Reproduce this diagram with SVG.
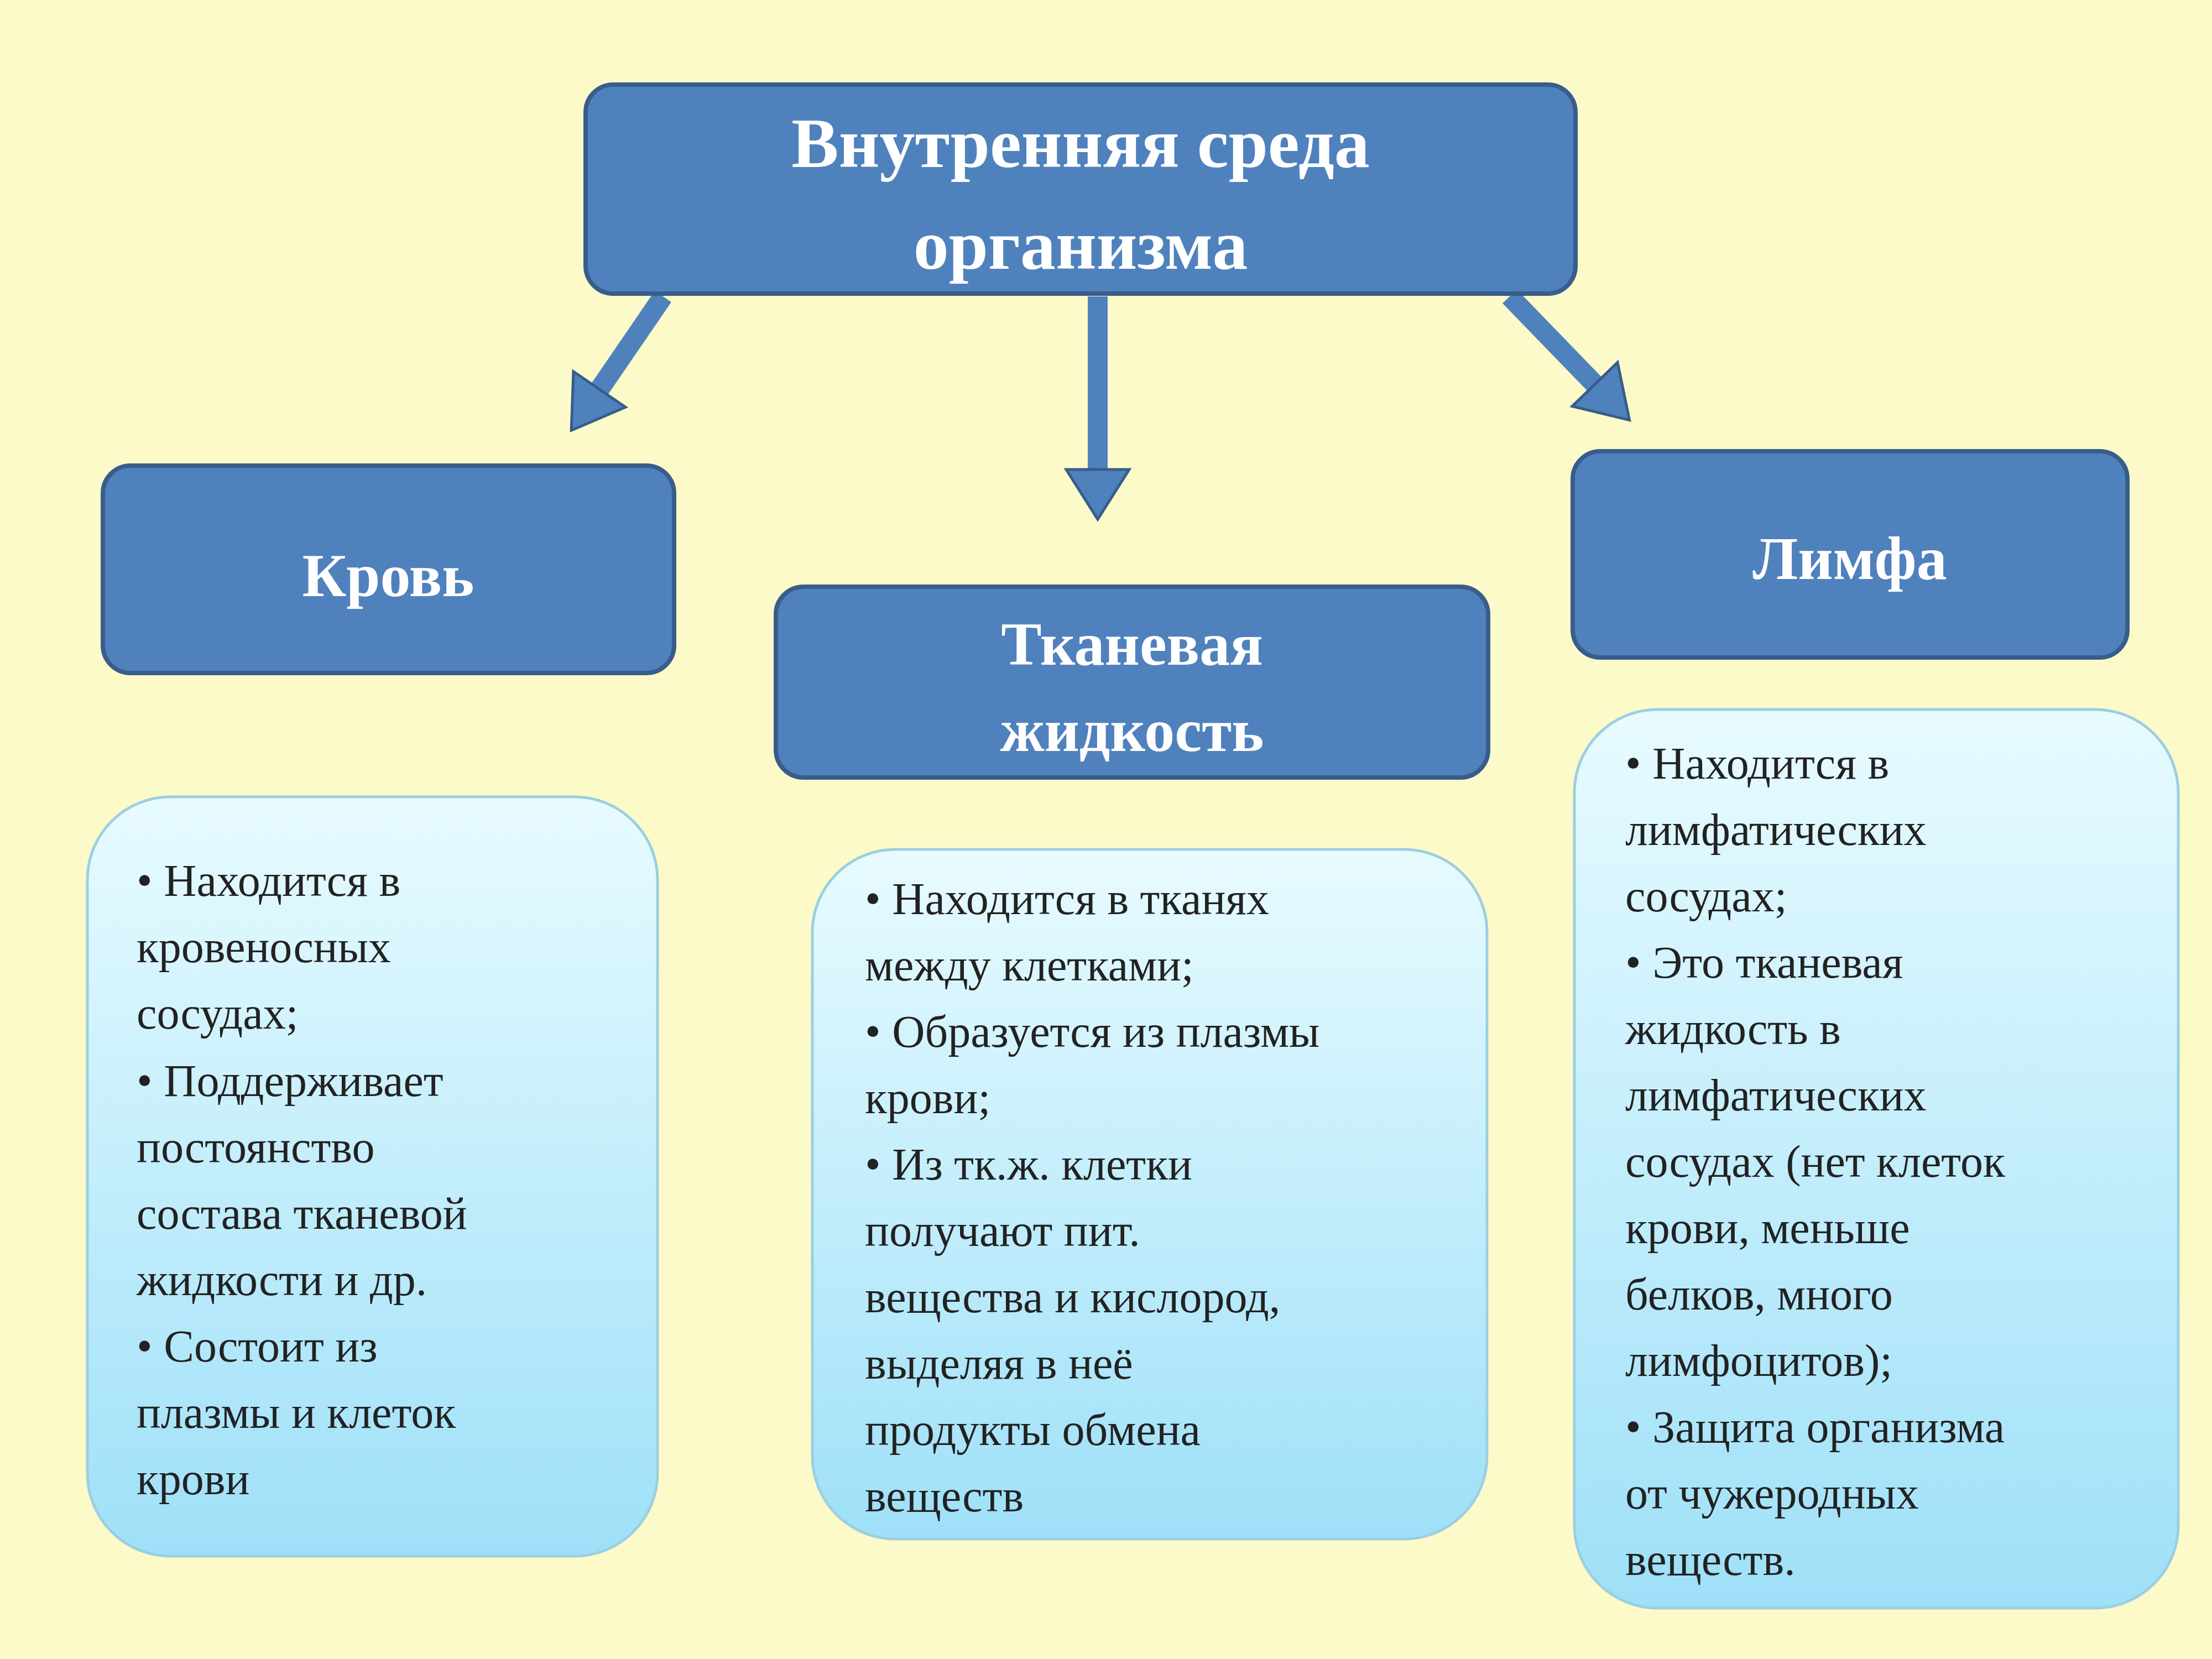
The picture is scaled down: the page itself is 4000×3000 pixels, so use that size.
<svg xmlns="http://www.w3.org/2000/svg" width="4000" height="3000" viewBox="0 0 4000 3000">
<defs>
<linearGradient id="g" x1="0" y1="0" x2="0" y2="1"><stop offset="0" stop-color="#E8FBFF"/><stop offset="1" stop-color="#9EE0F8"/></linearGradient>
<marker id="ah" markerUnits="userSpaceOnUse" markerWidth="100" markerHeight="130" viewBox="-5 -65 100 130" refX="0" refY="0" orient="auto"><path d="M0,-57 L90,0 L0,57 z" fill="#4F81BD" stroke="#385D8A" stroke-width="5"/></marker>
</defs>
<style>
.h{fill:#4F81BD;stroke:#385D8A;stroke-width:8}
.c{fill:url(#g);stroke:#9CCFE0;stroke-width:5}
.ht{font-family:"Liberation Serif",serif;font-weight:bold;fill:#fff;text-anchor:middle}
.b{font-family:"Liberation Serif",serif;font-size:82px;fill:#222}
.a{stroke:#4F81BD;stroke-width:36;fill:none}
</style>
<rect width="4000" height="3000" fill="#FCFAC9"/>
<g id="connectors">
<line class="a" x1="1199" y1="536" x2="1084" y2="704" marker-end="url(#ah)"/>
<line class="a" x1="1985" y1="536" x2="1985" y2="849" marker-end="url(#ah)"/>
<line class="a" x1="2730" y1="536" x2="2884" y2="695" marker-end="url(#ah)"/>
</g>
<g id="root"><rect class="h" x="1059" y="153" width="1790" height="378" rx="50"/>
<text class="ht" font-size="128" x="1954" y="302">Внутренняя среда</text>
<text class="ht" font-size="128" x="1954" y="486">организма</text></g>
<g id="krov"><rect class="h" x="186" y="842" width="1033" height="375" rx="50"/>
<text class="ht" font-size="110" x="702" y="1078">Кровь</text></g>
<g id="tkan"><rect class="h" x="1403" y="1061" width="1288" height="345" rx="50"/>
<text class="ht" font-size="110" x="2047" y="1202">Тканевая</text>
<text class="ht" font-size="110" x="2047" y="1358">жидкость</text></g>
<g id="limfa"><rect class="h" x="2844" y="816" width="1003" height="373" rx="50"/>
<text class="ht" font-size="110" x="3345" y="1047">Лимфа</text></g>
<g id="krov-info"><rect class="c" x="158" y="1441" width="1031" height="1373" rx="150"/>
<text class="b" x="247"><tspan x="247" y="1620">• Находится в</tspan><tspan x="247" y="1740">кровеносных</tspan><tspan x="247" y="1860">сосудах;</tspan><tspan x="247" y="1982">• Поддерживает</tspan><tspan x="247" y="2102">постоянство</tspan><tspan x="247" y="2222">состава тканевой</tspan><tspan x="247" y="2342">жидкости и др.</tspan><tspan x="247" y="2462">• Состоит из</tspan><tspan x="247" y="2582">плазмы и клеток</tspan><tspan x="247" y="2702">крови</tspan></text></g>
<g id="tkan-info"><rect class="c" x="1469" y="1536" width="1220" height="1247" rx="150"/>
<text class="b"><tspan x="1564" y="1653">• Находится в тканях</tspan><tspan x="1564" y="1773">между клетками;</tspan><tspan x="1564" y="1893">• Образуется из плазмы</tspan><tspan x="1564" y="2013">крови;</tspan><tspan x="1564" y="2133">• Из тк.ж. клетки</tspan><tspan x="1564" y="2253">получают пит.</tspan><tspan x="1564" y="2373">вещества и кислород,</tspan><tspan x="1564" y="2493">выделяя в неё</tspan><tspan x="1564" y="2613">продукты обмена</tspan><tspan x="1564" y="2733">веществ</tspan></text></g>
<g id="limfa-info"><rect class="c" x="2847" y="1283" width="1092" height="1625" rx="150"/>
<text class="b"><tspan x="2939" y="1408">• Находится в</tspan><tspan x="2939" y="1528">лимфатических</tspan><tspan x="2939" y="1648">сосудах;</tspan><tspan x="2939" y="1768">• Это тканевая</tspan><tspan x="2939" y="1888">жидкость в</tspan><tspan x="2939" y="2008">лимфатических</tspan><tspan x="2939" y="2128">сосудах (нет клеток</tspan><tspan x="2939" y="2248">крови, меньше</tspan><tspan x="2939" y="2368">белков, много</tspan><tspan x="2939" y="2488">лимфоцитов);</tspan><tspan x="2939" y="2608">• Защита организма</tspan><tspan x="2939" y="2728">от чужеродных</tspan><tspan x="2939" y="2848">веществ.</tspan></text></g>
</svg>
